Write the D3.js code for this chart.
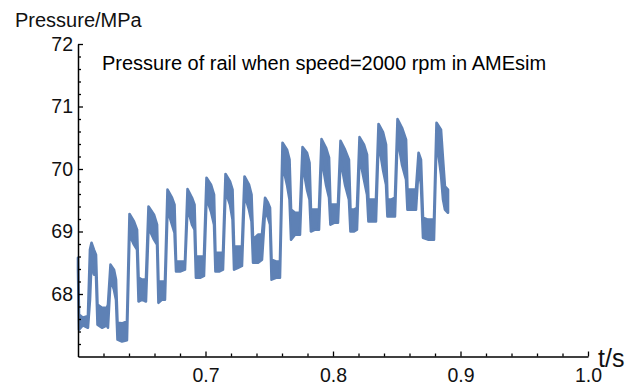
<!DOCTYPE html>
<html>
<head>
<meta charset="utf-8">
<script src="https://cdn.jsdelivr.net/npm/d3@7"></script>
<style>
  body { margin: 0; background: #fff; }
  svg { display: block; font-family: "Liberation Sans", Arial, sans-serif; }
</style>
</head>
<body>
<svg id="chart"></svg>
<script>
// time (s) and envelope of the rail pressure trace (MPa)
const times = [
  0.6000, 0.6008, 0.6039, 0.6078, 0.6094, 0.6106, 0.6125, 0.6141, 0.6153, 0.6188,
  0.6227, 0.6235, 0.6255, 0.6282, 0.6298, 0.6310, 0.6345, 0.6384, 0.6404, 0.6439,
  0.6463, 0.6475, 0.6502, 0.6533, 0.6553, 0.6596, 0.6620, 0.6631, 0.6659, 0.6682,
  0.6702, 0.6737, 0.6757, 0.6769, 0.6800, 0.6839, 0.6859, 0.6894, 0.6914, 0.6925,
  0.6957, 0.6988, 0.7008, 0.7043, 0.7067, 0.7078, 0.7106, 0.7137, 0.7157, 0.7192,
  0.7212, 0.7224, 0.7255, 0.7286, 0.7306, 0.7341, 0.7361, 0.7373, 0.7412, 0.7443,
  0.7467, 0.7490, 0.7506, 0.7518, 0.7553, 0.7584, 0.7604, 0.7639, 0.7659, 0.7671,
  0.7702, 0.7741, 0.7761, 0.7796, 0.7816, 0.7827, 0.7859, 0.7890, 0.7910, 0.7945,
  0.7969, 0.7980, 0.8008, 0.8039, 0.8059, 0.8094, 0.8125, 0.8137, 0.8165, 0.8188,
  0.8208, 0.8243, 0.8267, 0.8278, 0.8306, 0.8337, 0.8357, 0.8392, 0.8416, 0.8427,
  0.8455, 0.8486, 0.8506, 0.8541, 0.8573, 0.8584, 0.8620, 0.8651, 0.8671, 0.8690,
  0.8706, 0.8745, 0.8792, 0.8812, 0.8847, 0.8863, 0.8878, 0.8902
];
const pressureHigh = [
  68.58, 67.67, 67.62, 67.65, 68.71, 68.82, 68.71, 68.63, 67.83, 67.78,
  67.78, 67.83, 68.47, 68.39, 68.23, 67.54, 67.53, 67.56, 69.28, 69.16,
  69.03, 68.26, 68.23, 68.23, 69.40, 69.27, 69.11, 68.20, 68.20, 68.20,
  69.67, 69.54, 69.43, 68.52, 68.52, 68.52, 69.68, 69.54, 69.43, 68.60,
  68.60, 68.60, 69.86, 69.75, 69.59, 68.66, 68.66, 68.66, 69.92, 69.80,
  69.67, 68.76, 68.76, 68.76, 69.88, 69.75, 69.59, 68.87, 68.95, 68.95,
  69.54, 69.46, 69.38, 68.55, 68.52, 68.52, 70.42, 70.31, 70.15, 69.35,
  69.30, 69.30, 70.35, 70.26, 70.10, 69.35, 69.35, 69.35, 70.48, 70.34,
  70.18, 69.43, 69.43, 69.43, 70.45, 70.31, 70.15, 69.35, 69.35, 69.38,
  70.51, 70.39, 70.23, 69.51, 69.51, 69.51, 70.72, 70.59, 70.39, 69.51,
  69.51, 69.54, 70.80, 70.66, 70.47, 69.67, 69.67, 69.67, 70.26, 70.15,
  69.22, 69.19, 69.19, 70.74, 70.63, 70.15, 69.72, 69.67
];
const pressureLow = [
  68.39, 67.43, 67.50, 67.46, 67.91, 68.52, 68.31, 68.31, 67.51, 67.46,
  67.50, 67.46, 68.23, 68.07, 67.91, 67.27, 67.24, 67.26, 68.95, 68.79,
  68.71, 67.88, 67.91, 67.88, 69.06, 68.87, 68.79, 67.86, 67.91, 67.91,
  69.35, 69.11, 68.98, 68.36, 68.36, 68.39, 69.38, 69.11, 69.03, 68.26,
  68.26, 68.29, 69.54, 69.32, 69.11, 68.36, 68.36, 68.39, 69.64, 69.43,
  69.19, 68.39, 68.42, 68.45, 69.59, 69.35, 69.16, 68.50, 68.50, 68.55,
  69.32, 69.22, 69.11, 68.23, 68.26, 68.26, 70.07, 69.75, 69.51, 68.87,
  68.95, 68.95, 70.07, 69.67, 69.51, 69.00, 69.03, 69.03, 70.18, 69.75,
  69.54, 69.11, 69.14, 69.14, 70.15, 69.75, 69.51, 69.00, 69.00, 69.03,
  70.19, 69.83, 69.59, 69.16, 69.16, 69.16, 70.43, 69.99, 69.75, 69.24,
  69.24, 69.24, 70.50, 70.07, 69.83, 69.35, 69.35, 69.35, 70.02, 69.75,
  68.90, 68.87, 68.87, 70.47, 69.91, 69.51, 69.35, 69.30
];

const xTicks = [0.7, 0.8, 0.9, 1.0];
const xMinorTicks = [0.62, 0.64, 0.66, 0.68, 0.72, 0.74, 0.76, 0.78, 0.82, 0.84, 0.86, 0.88, 0.92, 0.94, 0.96, 0.98];
const yTicks = [68, 69, 70, 71, 72];
const yMinorTicks = [67.2, 67.4, 67.6, 67.8, 68.2, 68.4, 68.6, 68.8, 69.2, 69.4, 69.6, 69.8,
                     70.2, 70.4, 70.6, 70.8, 71.2, 71.4, 71.6, 71.8];

const width = 644, height = 385;
const lineColor = '#5e81b5';

const svg = d3.select('#chart')
  .attr('width', width)
  .attr('height', height);

const x = d3.scaleLinear().domain([0.6, 1.0]).range([78, 588]);
const y = d3.scaleLinear().domain([67, 72]).range([356.5, 44]);

const data = times.map((t, i) => ({ t: t, hi: pressureHigh[i], lo: pressureLow[i] }));

// the trace (dense oscillation drawn as its envelope band)
const area = d3.area()
  .x(d => x(d.t))
  .y0(d => y(d.lo))
  .y1(d => y(d.hi));

svg.append('path')
  .datum(data)
  .attr('d', area)
  .attr('fill', lineColor)
  .attr('stroke', lineColor)
  .attr('stroke-width', 2.6)
  .attr('stroke-linejoin', 'round');

// x axis, ticks pointing inward
const xAxisG = svg.append('g')
  .attr('transform', `translate(0,${y(67)})`);
xAxisG.call(d3.axisBottom(x).tickValues(xMinorTicks).tickSizeInner(-3).tickSizeOuter(0).tickFormat(''));
xAxisG.append('g')
  .attr('class', 'major')
  .call(d3.axisBottom(x).tickValues(xTicks).tickSizeInner(-5).tickSizeOuter(0)
    .tickPadding(11.5).tickFormat(d3.format('.1f')))
  .select('.domain').remove();

// y axis
const yAxisG = svg.append('g')
  .attr('transform', `translate(${x(0.6)},0)`);
yAxisG.call(d3.axisLeft(y).tickValues(yMinorTicks).tickSizeInner(-3).tickSizeOuter(0).tickFormat(''));
yAxisG.append('g')
  .attr('class', 'major')
  .call(d3.axisLeft(y).tickValues(yTicks).tickSizeInner(-5).tickSizeOuter(0)
    .tickPadding(5).tickFormat(d3.format('d')))
  .select('.domain').remove();

svg.selectAll('.domain').attr('stroke', '#000').attr('stroke-width', 1.5);
svg.selectAll('.tick line').attr('stroke', '#000').attr('stroke-width', 1.3);
svg.selectAll('.tick text')
  .attr('font-family', '"Liberation Sans", Arial, sans-serif')
  .attr('font-size', '19.5px')
  .attr('fill', '#111');

// axis labels and title
svg.append('text')
  .attr('x', 15)
  .attr('y', 27)
  .attr('font-size', '20px')
  .attr('fill', '#111')
  .text('Pressure/MPa');

svg.append('text')
  .attr('x', 598)
  .attr('y', 367)
  .attr('font-size', '25px')
  .attr('fill', '#111')
  .text('t/s');

svg.append('text')
  .attr('x', 102)
  .attr('y', 69.5)
  .attr('font-size', '20px')
  .attr('fill', '#000')
  .text('Pressure of rail when speed=2000 rpm in AMEsim');
</script>
</body>
</html>
